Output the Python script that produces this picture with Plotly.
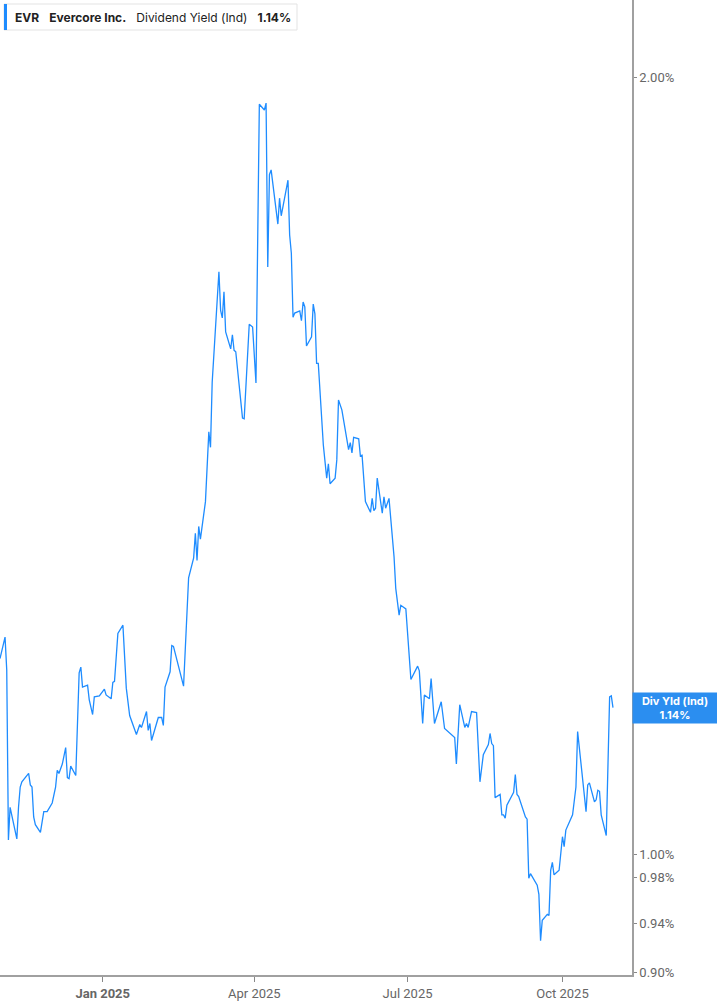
import plotly.graph_objs as go

# EVR dividend yield (indicated), %
dates = [
    "2024-11-01", "2024-11-04", "2024-11-05", "2024-11-06", "2024-11-07", "2024-11-11", "2024-11-12", "2024-11-13",
    "2024-11-14", "2024-11-18", "2024-11-19", "2024-11-20", "2024-11-21", "2024-11-22", "2024-11-25", "2024-11-27",
    "2024-11-29", "2024-12-02", "2024-12-04", "2024-12-05", "2024-12-06", "2024-12-08", "2024-12-10", "2024-12-11",
    "2024-12-12", "2024-12-13", "2024-12-16", "2024-12-18", "2024-12-19", "2024-12-20", "2024-12-23", "2024-12-24",
    "2024-12-26", "2024-12-27", "2024-12-30", "2025-01-02", "2025-01-03", "2025-01-06", "2025-01-07", "2025-01-08",
    "2025-01-10", "2025-01-13", "2025-01-15", "2025-01-17", "2025-01-21", "2025-01-23", "2025-01-24", "2025-01-27",
    "2025-01-28", "2025-01-29", "2025-01-30", "2025-02-03", "2025-02-05", "2025-02-06", "2025-02-07", "2025-02-10",
    "2025-02-11", "2025-02-12", "2025-02-18", "2025-02-20", "2025-02-21", "2025-02-24", "2025-02-25", "2025-02-26",
    "2025-02-27", "2025-02-28", "2025-03-03", "2025-03-05", "2025-03-06", "2025-03-07", "2025-03-08", "2025-03-11",
    "2025-03-12", "2025-03-13", "2025-03-14", "2025-03-15", "2025-03-18", "2025-03-19", "2025-03-20", "2025-03-21",
    "2025-03-25", "2025-03-26", "2025-03-29", "2025-03-31", "2025-04-02", "2025-04-04", "2025-04-07", "2025-04-08",
    "2025-04-09", "2025-04-10", "2025-04-11", "2025-04-15", "2025-04-16", "2025-04-17", "2025-04-21", "2025-04-22",
    "2025-04-23", "2025-04-24", "2025-04-25", "2025-04-28", "2025-04-29", "2025-04-30", "2025-05-01", "2025-05-02",
    "2025-05-05", "2025-05-06", "2025-05-07", "2025-05-08", "2025-05-09", "2025-05-12", "2025-05-14", "2025-05-15",
    "2025-05-16", "2025-05-19", "2025-05-20", "2025-05-21", "2025-05-23", "2025-05-27", "2025-05-28", "2025-05-29",
    "2025-05-30", "2025-06-02", "2025-06-03", "2025-06-04", "2025-06-06", "2025-06-09", "2025-06-10", "2025-06-11",
    "2025-06-12", "2025-06-13", "2025-06-16", "2025-06-17", "2025-06-18", "2025-06-20", "2025-06-23", "2025-06-24",
    "2025-06-26", "2025-06-27", "2025-06-30", "2025-07-03", "2025-07-07", "2025-07-08", "2025-07-10", "2025-07-11",
    "2025-07-14", "2025-07-15", "2025-07-17", "2025-07-21", "2025-07-23", "2025-07-29", "2025-07-30", "2025-08-01",
    "2025-08-04", "2025-08-05", "2025-08-06", "2025-08-08", "2025-08-11", "2025-08-13", "2025-08-15", "2025-08-18",
    "2025-08-19", "2025-08-20", "2025-08-21", "2025-08-22", "2025-08-25", "2025-08-26", "2025-08-27", "2025-08-28",
    "2025-08-29", "2025-09-02", "2025-09-03", "2025-09-04", "2025-09-05", "2025-09-09", "2025-09-10", "2025-09-11",
    "2025-09-12", "2025-09-16", "2025-09-17", "2025-09-18", "2025-09-19", "2025-09-22", "2025-09-23", "2025-09-24",
    "2025-09-25", "2025-09-26", "2025-09-29", "2025-10-01", "2025-10-02", "2025-10-03", "2025-10-07", "2025-10-09",
    "2025-10-10", "2025-10-15", "2025-10-16", "2025-10-17", "2025-10-20", "2025-10-21", "2025-10-22", "2025-10-23",
    "2025-10-24", "2025-10-27", "2025-10-29", "2025-10-30", "2025-10-31",
]

div_yield = [
    1.191, 1.214, 1.179, 1.013, 1.043, 1.014, 1.043, 1.062,
    1.067, 1.075, 1.064, 1.062, 1.034, 1.027, 1.020, 1.039,
    1.039, 1.047, 1.062, 1.078, 1.075, 1.084, 1.100, 1.071,
    1.070, 1.082, 1.073, 1.176, 1.182, 1.161, 1.163, 1.148,
    1.133, 1.151, 1.152, 1.159, 1.153, 1.149, 1.166, 1.167,
    1.218, 1.227, 1.160, 1.132, 1.113, 1.123, 1.120, 1.136,
    1.117, 1.124, 1.107, 1.130, 1.130, 1.122, 1.161, 1.177,
    1.205, 1.204, 1.162, 1.244, 1.280, 1.303, 1.332, 1.300,
    1.340, 1.325, 1.370, 1.458, 1.438, 1.524, 1.559, 1.682,
    1.625, 1.614, 1.652, 1.594, 1.570, 1.590, 1.568, 1.566,
    1.476, 1.475, 1.605, 1.601, 1.523, 1.953, 1.943, 1.955,
    1.689, 1.834, 1.842, 1.755, 1.796, 1.768, 1.825, 1.738,
    1.710, 1.615, 1.621, 1.624, 1.610, 1.637, 1.630, 1.574,
    1.587, 1.634, 1.620, 1.550, 1.550, 1.441, 1.399, 1.417,
    1.392, 1.399, 1.422, 1.500, 1.487, 1.435, 1.444, 1.431,
    1.451, 1.449, 1.427, 1.428, 1.370, 1.357, 1.374, 1.359,
    1.362, 1.399, 1.356, 1.376, 1.362, 1.374, 1.304, 1.268,
    1.238, 1.249, 1.245, 1.169, 1.183, 1.178, 1.124, 1.153,
    1.149, 1.170, 1.124, 1.146, 1.119, 1.110, 1.084, 1.143,
    1.120, 1.124, 1.120, 1.136, 1.135, 1.067, 1.093, 1.103,
    1.114, 1.104, 1.102, 1.052, 1.055, 1.036, 1.036, 1.033,
    1.045, 1.057, 1.074, 1.055, 1.053, 1.034, 1.032, 0.979,
    0.983, 0.973, 0.965, 0.926, 0.943, 0.948, 0.947, 0.986,
    0.993, 0.982, 0.986, 1.016, 1.007, 1.022, 1.036, 1.062,
    1.116, 1.039, 1.064, 1.066, 1.048, 1.050, 1.059, 1.058,
    1.036, 1.017, 1.151, 1.152, 1.140,
]

y_ticks = [0.90, 0.94, 0.98, 1.00, 2.00]
y_tick_text = ["0.90%", "0.94%", "0.98%", "1.00%", "2.00%"]
x_ticks = ["2025-01-01", "2025-04-01", "2025-07-01", "2025-10-01"]
x_tick_text = ["<b>Jan 2025</b>", "Apr 2025", "Jul 2025", "Oct 2025"]

blue = "#1e8cff"
grey = "#a0a0a0"
tick_font = "Liberation Sans Narrow, Roboto, sans-serif"

fig = go.Figure()
fig.add_trace(go.Scatter(x=dates, y=div_yield, mode="lines",
                         line=dict(color=blue, width=1.3), hoverinfo="x+y"))

fig.update_layout(
    width=717, height=1005,
    margin=dict(l=0, r=85, t=0, b=30),
    paper_bgcolor="white", plot_bgcolor="white",
    showlegend=False,
    font=dict(family="Inter, Roboto, sans-serif", size=12, color="#555"),
    xaxis=dict(
        range=["2024-11-01", "2025-11-11 07:00"],
        tickvals=x_ticks, ticktext=x_tick_text,
        showgrid=False, zeroline=False,
        showline=True, linecolor=grey, linewidth=2,
        ticks="outside", ticklen=5, tickcolor="#888", tickwidth=1,
        tickfont=dict(family=tick_font, size=13, color="#666"),
    ),
    yaxis=dict(
        type="log", side="right",
        range=[-0.0467, 0.3311],
        tickvals=y_ticks, ticktext=y_tick_text,
        showgrid=False, zeroline=False,
        showline=True, linecolor=grey, linewidth=1.5,
        ticks="outside", ticklen=3, tickcolor="#888",
        tickfont=dict(family=tick_font, size=13, color="#666"),
    ),
)

# header box top-left
fig.add_shape(type="rect", xref="paper", yref="paper",
              x0=4 / 632, x1=297 / 632, y0=1 - 30 / 975, y1=1 - 4 / 975,
              fillcolor="white", line=dict(color="#e3e3e3", width=1))
fig.add_shape(type="rect", xref="paper", yref="paper",
              x0=4 / 632, x1=7 / 632, y0=1 - 30 / 975, y1=1 - 4 / 975,
              fillcolor=blue, line=dict(width=0))
fig.add_annotation(xref="paper", yref="paper", x=13 / 632, y=1 - 17 / 975,
                   xanchor="left", yanchor="middle", showarrow=False,
                   text="<b>EVR</b>   <b>Evercore Inc.</b>   Dividend Yield (Ind)   <b>1.14%</b>",
                   font=dict(size=12, color="#222"))

# last value label on the right axis
last_val = div_yield[-1]
fig.add_annotation(xref="paper", yref="y", x=1, y=0.0569,
                   xanchor="left", yanchor="middle", showarrow=False,
                   width=80, height=26, bgcolor="#2b8ef0", borderpad=2,
                   text="<b>Div Yld (Ind)<br>%.2f%%</b>" % last_val,
                   font=dict(size=11, color="white"))

# the page body has an 8px default margin; drop it so the figure sits at the corner
fig.write_html("out.html", config={"displayModeBar": False},
               post_script="document.body.style.margin='0';")
